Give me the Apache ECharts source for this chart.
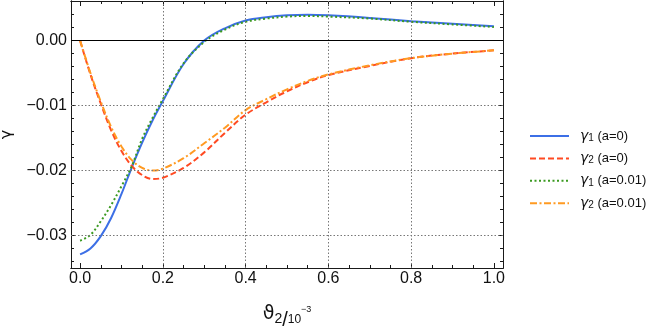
<!DOCTYPE html>
<html><head><meta charset="utf-8">
<script src="https://cdn.jsdelivr.net/npm/echarts@6/dist/echarts.min.js"></script>
<style>html,body{margin:0;padding:0;background:#fff}#c{width:648px;height:330px}</style>
</head><body><div id="c"></div>
<script>
const xValues   = [0, 0.025, 0.05, 0.075, 0.1, 0.125, 0.15, 0.175, 0.2, 0.25, 0.3, 0.35, 0.4, 0.45, 0.5, 0.55, 0.6, 0.7, 0.8, 0.9, 1.0];
const gamma1_a0   = [-0.0329, -0.0320, -0.0301, -0.0273, -0.0236, -0.0195, -0.0157, -0.0123, -0.0093, -0.0036, 0.0000, 0.0019, 0.0031, 0.0036, 0.0039, 0.0040, 0.0039, 0.0035, 0.0030, 0.0026, 0.0022];
const gamma2_a0   = [0, -0.0052, -0.0097, -0.0138, -0.0170, -0.0193, -0.0207, -0.0213, -0.0211, -0.0196, -0.0172, -0.0142, -0.0114, -0.0095, -0.0078, -0.0064, -0.0053, -0.0039, -0.0027, -0.0020, -0.0015];
const gamma1_a001 = [-0.0308, -0.0299, -0.0278, -0.0253, -0.0224, -0.0193, -0.0151, -0.0119, -0.0090, -0.0035, -0.0002, 0.0017, 0.0029, 0.0034, 0.0037, 0.0038, 0.0037, 0.0034, 0.0029, 0.0025, 0.0021];
const gamma2_a001 = [0, -0.0050, -0.0094, -0.0133, -0.0163, -0.0184, -0.0196, -0.0200, -0.0197, -0.0181, -0.0158, -0.0134, -0.0107, -0.0090, -0.0075, -0.0062, -0.0052, -0.0038, -0.0027, -0.0020, -0.0015];

const xTickLabels = [0, 0.2, 0.4, 0.6, 0.8, 1.0];
const xMinorTicks = [0, 0.05, 0.1, 0.15, 0.2, 0.25, 0.3, 0.35, 0.4, 0.45, 0.5, 0.55, 0.6, 0.65, 0.7, 0.75, 0.8, 0.85, 0.9, 0.95, 1.0];
const yTickLabels = [-0.03, -0.02, -0.01, 0];
const yMinorTicks = [-0.034, -0.032, -0.03, -0.028, -0.026, -0.024, -0.022, -0.02, -0.018, -0.016, -0.014, -0.012, -0.01, -0.008, -0.006, -0.004, -0.002, 0, 0.002, 0.004, 0.006];
const xGridLines = [0.2, 0.4, 0.6, 0.8];
const yGridLines = [-0.03, -0.02, -0.01];
const legendLabels = ['{g|γ}{s|1} (a=0)', '{g|γ}{s|2} (a=0)', '{g|γ}{s|1} (a=0.01)', '{g|γ}{s|2} (a=0.01)'];

const X_MIN = -0.022, X_MAX = 1.022, Y_MIN = -0.035, Y_MAX = 0.0061;
const frameColor = '#1a1a1a';
const font = 'Liberation Sans, Arial, sans-serif';

function pairs(ys) { return xValues.map((x, i) => [x, ys[i]]); }
function fmtY(v) { if (Math.abs(v) < 1e-9) return '0.00'; return (v < 0 ? '\u2212' : '') + Math.abs(v).toFixed(2); }

function xAx(pos, ticks, len, labels) {
  return {
    type: 'value', position: pos, min: X_MIN, max: X_MAX,
    axisLine: { show: true, onZero: false, lineStyle: { color: frameColor, width: 1 } },
    axisTick: { show: true, inside: true, length: len, customValues: ticks, lineStyle: { color: frameColor } },
    axisLabel: labels ? { show: true, customValues: xTickLabels, formatter: v => v.toFixed(1), fontSize: 16, color: '#111', fontFamily: font, margin: 3 } : { show: false },
    splitLine: { show: false }
  };
}
function yAx(pos, ticks, len, labels) {
  return {
    type: 'value', position: pos, min: Y_MIN, max: Y_MAX,
    axisLine: { show: true, onZero: false, lineStyle: { color: frameColor, width: 1 } },
    axisTick: { show: true, inside: true, length: len, customValues: ticks, lineStyle: { color: frameColor } },
    axisLabel: labels ? { show: true, customValues: yTickLabels, formatter: fmtY, fontSize: 16, color: '#111', fontFamily: font, margin: 4 } : { show: false },
    splitLine: { show: false }
  };
}

const xAxes = [xAx('bottom', xTickLabels, 5, true), xAx('bottom', xMinorTicks, 3, false), xAx('top', xTickLabels, 5, false), xAx('top', xMinorTicks, 3, false)];
xAxes[0].name = '{t|ϑ}{s|2}{sl|/}{n|10}{e|\u22123}';
xAxes[0].nameLocation = 'middle';
xAxes[0].nameGap = 34;
xAxes[0].nameTextStyle = {
  color: '#111', fontFamily: font,
  rich: {
    t: { fontSize: 19, fontFamily: 'DejaVu Sans', lineHeight: 24, verticalAlign: 'middle', color: '#111' },
    s: { fontSize: 14, fontFamily: font, lineHeight: 14, verticalAlign: 'bottom', color: '#111' },
    sl: { fontSize: 20, fontFamily: font, lineHeight: 24, verticalAlign: 'bottom', color: '#111', padding: [0, 0, -4, 0] },
    n: { fontSize: 12, fontFamily: font, lineHeight: 12, verticalAlign: 'bottom', color: '#111' },
    e: { fontSize: 9, fontFamily: font, lineHeight: 9, verticalAlign: 'top', color: '#111', padding: [3, 0, 0, 0] }
  }
};
const yAxes = [yAx('left', yTickLabels, 5, true), yAx('left', yMinorTicks, 3, false), yAx('right', yTickLabels, 5, false), yAx('right', yMinorTicks, 3, false)];
yAxes[0].name = 'γ';
yAxes[0].nameLocation = 'middle';
yAxes[0].nameGap = 56;
yAxes[0].nameTextStyle = { fontSize: 16, fontFamily: 'DejaVu Sans', color: '#111' };

function lineSeries(name, ys, color, type) {
  return {
    name: name, type: 'line', data: pairs(ys), symbol: 'none', smooth: 0.35,
    xAxisIndex: 0, yAxisIndex: 0, z: 3,
    lineStyle: { color: color, width: 2, type: type, cap: 'butt' },
    itemStyle: { color: color }, animation: false
  };
}

const gridMarks = [];
xGridLines.forEach(v => gridMarks.push({ xAxis: v, lineStyle: { color: '#777', type: [1.5, 2], width: 1 } }));
yGridLines.forEach(v => gridMarks.push({ yAxis: v, lineStyle: { color: '#777', type: [1.5, 2], width: 1 } }));
gridMarks.push({ yAxis: 0, lineStyle: { color: '#000', type: 'solid', width: 1 } });

const option = {
  animation: false,
  backgroundColor: '#fff',
  grid: { left: 71, right: 145, top: 1, bottom: 62, containLabel: false, outerBoundsMode: 'none' },
  xAxis: xAxes,
  yAxis: yAxes,
  legend: {
    orient: 'vertical', left: 524, top: 124, itemWidth: 39, itemHeight: 14, itemGap: 8.4,
    data: legendLabels.map((_, i) => 'S' + i),
    formatter: n => legendLabels[+n.slice(1)],
    itemStyle: { opacity: 0, borderWidth: 0 },
    textStyle: {
      fontSize: 13, fontFamily: font, color: '#111', padding: [0, 0, 0, 6],
      rich: {
        g: { fontSize: 14, fontFamily: 'DejaVu Sans', fontStyle: 'italic', color: '#111' },
        s: { fontSize: 10, fontFamily: font, color: '#111', verticalAlign: 'bottom', padding: [4, 0, 0, 0] }
      }
    }
  },
  series: [
    { name: 'grid', type: 'line', data: [], xAxisIndex: 0, yAxisIndex: 0, z: 1,
      markLine: { silent: true, symbol: 'none', label: { show: false }, animation: false, data: gridMarks } },
    lineSeries('S0', gamma1_a0, '#3c6fe6', 'solid'),
    lineSeries('S1', gamma2_a0, '#ff4a22', [6, 3]),
    lineSeries('S2', gamma1_a001, '#3b9a20', [2, 2.5]),
    lineSeries('S3', gamma2_a001, '#ff9a22', [7, 2.5, 2, 2.5])
  ]
};
echarts.init(document.getElementById('c'), null, { renderer: 'canvas' }).setOption(option);
</script>
</body></html>
